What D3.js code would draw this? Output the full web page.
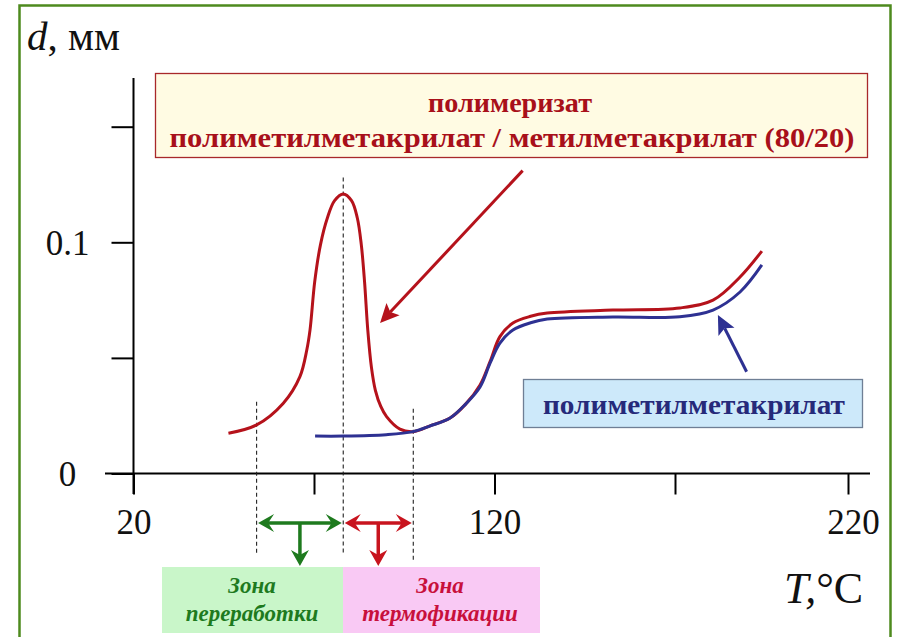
<!DOCTYPE html>
<html><head><meta charset="utf-8">
<script src="https://cdn.jsdelivr.net/npm/d3@7"></script>
<style>
html,body{margin:0;padding:0;background:#fff;}
svg{display:block;}
text{font-family:"Liberation Serif","Times New Roman",serif;}
</style></head>
<body><svg id="c" width="902" height="637"></svg>
<script>
// ---- data ----
const T_TICKS = [20, 70, 120, 170, 220];
const T_LABELS = ["20", "", "120", "", "220"];
const D_TICKS = [0, 0.05, 0.1, 0.15];
const D_LABELS = ["0", "", "0.1", ""];

// copolymer (PMMA / MMA 80/20) – red curve
const copolymerT = [46.3, 54.1, 61.5, 66.1, 68.0, 68.9, 70.2, 71.8, 73.7, 75.7, 78.1, 80.4, 82.0, 83.1, 84.0, 84.9, 85.9, 87.0, 88.5, 90.1, 93.8, 97.5, 102, 107.7, 112, 116, 118.8, 121.5, 125.1, 130, 134.6, 152.8, 171.4, 181, 188.8, 195.1];
const copolymerD = [0.0174, 0.0210, 0.0304, 0.0419, 0.0534, 0.0621, 0.0830, 0.0990, 0.1105, 0.1180, 0.1209, 0.1180, 0.1105, 0.0990, 0.0830, 0.0620, 0.0460, 0.0360, 0.0290, 0.0246, 0.0192, 0.0181, 0.0205, 0.0240, 0.0300, 0.0383, 0.0485, 0.0592, 0.0651, 0.0680, 0.0694, 0.0707, 0.0716, 0.0750, 0.0850, 0.0962];
// PMMA – blue curve
const pmmaT = [70.3, 78.1, 90, 97.4, 102, 107.7, 112, 116, 118.8, 121.5, 125.1, 130, 134.6, 152.8, 171.4, 181, 188.8, 195.1];
const pmmaD = [0.0162, 0.0162, 0.0168, 0.0181, 0.0205, 0.0240, 0.0300, 0.0374, 0.0478, 0.0564, 0.0621, 0.0652, 0.0668, 0.0677, 0.0678, 0.0707, 0.0785, 0.0902];

const zoneT = [54.1, 78.1, 97.5];          // zone boundaries
const zoneTopD = [0.031, 0.128, 0.028];     // where dashed lines start
const copolymerLabel = ["полимеризат", "полиметилметакрилат / метилметакрилат (80/20)"];
const pmmaLabel = "полиметилметакрилат";
const zoneLabels = [["Зона", "переработки"], ["Зона", "термофикации"]];
const copolymerPointer = [[127.8, 0.131], [88.3, 0.0651]];
const pmmaPointer = [[190.7, 0.044], [182.4, 0.0686]];

// ---- scales ----
const svg = d3.select("#c");
const x = d3.scaleLinear().domain(T_TICKS).range([133.5, 314, 494.5, 675, 848]);
const y = d3.scaleLinear().domain([0, 0.1]).range([473.5, 242.3]);

const RED = "#b5121b", BLUE = "#2e3192", TXTRED = "#a8101a", NAVY = "#262a7a";
const GREEN = "#1e7a1e", ZRED = "#c8141e";
const SERIF = "'Liberation Serif', 'Times New Roman', serif";

// frame
svg.append("rect").attr("x", 19.5).attr("y", 5.5).attr("width", 871).attr("height", 640)
  .attr("fill", "none").attr("stroke", "#4e8a1e").attr("stroke-width", 2.5);

// axes lines
svg.append("line").attr("x1", 105).attr("x2", 870).attr("y1", y(0)).attr("y2", y(0))
  .attr("stroke", "#000").attr("stroke-width", 2);
svg.append("line").attr("x1", x(20)).attr("x2", x(20)).attr("y1", 78).attr("y2", 494)
  .attr("stroke", "#000").attr("stroke-width", 2);

const xAxis = d3.axisBottom(x).tickValues(T_TICKS).tickSize(21).tickSizeOuter(0)
  .tickFormat((d, i) => T_LABELS[i]);
const gx = svg.append("g").attr("transform", `translate(0,${y(0)})`).call(xAxis);
gx.select(".domain").remove();
gx.selectAll(".tick line").attr("stroke", "#000").attr("stroke-width", 2);
gx.selectAll(".tick text").attr("y", 60).attr("dy", 0).attr("font-size", 35)
  .attr("fill", "#111").style("font-family", SERIF);
gx.selectAll(".tick").filter(d => d === 220).select("text").attr("dx", 5);

const yAxis = d3.axisLeft(y).tickValues(D_TICKS).tickSize(22).tickSizeOuter(0)
  .tickFormat((d, i) => D_LABELS[i]);
const gy = svg.append("g").attr("transform", `translate(${x(20)},0)`).call(yAxis);
gy.select(".domain").remove();
gy.selectAll(".tick line").attr("stroke", "#000").attr("stroke-width", 2);
gy.selectAll(".tick text").attr("x", -66).attr("dy", "0.35em").attr("text-anchor", "middle")
  .attr("font-size", 35).attr("fill", "#111").style("font-family", SERIF);

// axis titles
const yt = svg.append("text").attr("x", 27).attr("y", 50).attr("font-size", 41).attr("fill", "#111").style("font-family", SERIF);
yt.append("tspan").attr("font-style", "italic").text("d");
yt.append("tspan").text(", мм");
const xt = svg.append("text").attr("x", 784).attr("y", 603).attr("font-size", 44).attr("fill", "#111").style("font-family", SERIF);
xt.append("tspan").attr("font-style", "italic").text("T,");
xt.append("tspan").text("°C");

// dashed zone lines
svg.append("g").selectAll("line").data(zoneT).join("line")
  .attr("x1", d => x(d)).attr("x2", d => x(d))
  .attr("y1", (d, i) => y(zoneTopD[i]))
  .attr("y2", (d, i) => i === 2 ? 562 : 553)
  .attr("stroke", "#222").attr("stroke-width", 1.1).attr("stroke-dasharray", "4,3");

// curves
const line = d3.line().curve(d3.curveCatmullRom.alpha(0.5)).x(d => x(d[0])).y(d => y(d[1]));
svg.append("path").datum(copolymerT.map((t, i) => [t, copolymerD[i]]))
  .attr("d", line).attr("fill", "none").attr("stroke", RED).attr("stroke-width", 3);
svg.append("path").datum(pmmaT.map((t, i) => [t, pmmaD[i]]))
  .attr("d", line).attr("fill", "none").attr("stroke", BLUE).attr("stroke-width", 3);

// arrowhead helper (tip at x,y, pointing along angle)
function head(g, tx, ty, ang, len, hw, color, notch) {
  const c = Math.cos(ang), s = Math.sin(ang);
  const p = (a, b) => [tx + a * c - b * s, ty + a * s + b * c];
  const A = p(-len, -hw), B = p(-len, hw), N = p(-len + notch, 0);
  g.append("path").attr("d", `M${tx},${ty}L${A}L${N}L${B}Z`).attr("fill", color);
}
function arrow(x1, y1, x2, y2, color, w, len, hw, notch) {
  const g = svg.append("g");
  const ang = Math.atan2(y2 - y1, x2 - x1);
  const ex = x2 - Math.cos(ang) * (len - notch), ey = y2 - Math.sin(ang) * (len - notch);
  g.append("line").attr("x1", x1).attr("y1", y1).attr("x2", ex).attr("y2", ey)
    .attr("stroke", color).attr("stroke-width", w);
  head(g, x2, y2, ang, len, hw, color, notch);
  return g;
}

// pointer arrows
arrow(x(copolymerPointer[0][0]), y(copolymerPointer[0][1]), x(copolymerPointer[1][0]), y(copolymerPointer[1][1]), RED, 3, 19, 9, 4);
arrow(x(pmmaPointer[0][0]), y(pmmaPointer[0][1]), x(pmmaPointer[1][0]), y(pmmaPointer[1][1]), BLUE, 3, 19, 9, 4);

// zone double arrows
const AY = 523, SY = 566;
[[0, GREEN], [1, ZRED]].forEach(([k, col]) => {
  const a = x(zoneT[k]) + 1.5, b = x(zoneT[k + 1]) - 1.5, m = (x(zoneT[k]) + x(zoneT[k + 1])) / 2;
  const g = svg.append("g");
  g.append("line").attr("x1", a + 8).attr("x2", b - 8).attr("y1", AY).attr("y2", AY)
    .attr("stroke", col).attr("stroke-width", 3.5);
  head(g, b, AY, 0, 16, 9, col, 6);
  head(g, a, AY, Math.PI, 16, 9, col, 6);
  g.append("line").attr("x1", m).attr("x2", m).attr("y1", AY).attr("y2", SY - 10)
    .attr("stroke", col).attr("stroke-width", 3.5);
  head(g, m, SY, Math.PI / 2, 16, 9, col, 5);
});

// zone boxes
const zoneBox = [[162, 343, "#c9f6c9", GREEN], [343, 540, "#f9c9f4", "#c8103c"]];
zoneBox.forEach(([l, r, fill, tc], i) => {
  svg.append("rect").attr("x", l).attr("y", 567).attr("width", r - l).attr("height", 66).attr("fill", fill);
  zoneLabels[i].forEach((t, j) => {
    svg.append("text").attr("x", i === 0 ? 252 : 440).attr("y", j === 0 ? 593 : 621)
      .attr("text-anchor", "middle").attr("font-size", 23).attr("font-weight", "bold")
      .attr("font-style", "italic").attr("fill", tc).style("font-family", SERIF).text(t);
  });
});

// copolymer legend box
svg.append("rect").attr("x", 155.5).attr("y", 73.5).attr("width", 712).attr("height", 84)
  .attr("fill", "#fffbe3").attr("stroke", "#a8282a").attr("stroke-width", 1.3);
svg.append("text").attr("x", 510).attr("y", 112).attr("text-anchor", "middle")
  .attr("font-size", 28).attr("font-weight", "bold").attr("fill", TXTRED).style("font-family", SERIF)
  .attr("textLength", 164).attr("lengthAdjust", "spacingAndGlyphs").text(copolymerLabel[0]);
svg.append("text").attr("x", 512).attr("y", 147).attr("text-anchor", "middle")
  .attr("font-size", 28).attr("font-weight", "bold").attr("fill", TXTRED).style("font-family", SERIF)
  .attr("textLength", 685).attr("lengthAdjust", "spacingAndGlyphs").text(copolymerLabel[1]);

// pmma legend box
svg.append("rect").attr("x", 523.5).attr("y", 379.5).attr("width", 339).attr("height", 48)
  .attr("fill", "#cde9fa").attr("stroke", "#6f7f95").attr("stroke-width", 1.3);
svg.append("text").attr("x", 694).attr("y", 414).attr("text-anchor", "middle")
  .attr("font-size", 28).attr("font-weight", "bold").attr("fill", NAVY).style("font-family", SERIF)
  .attr("textLength", 302).attr("lengthAdjust", "spacingAndGlyphs").text(pmmaLabel);
</script></body></html>
